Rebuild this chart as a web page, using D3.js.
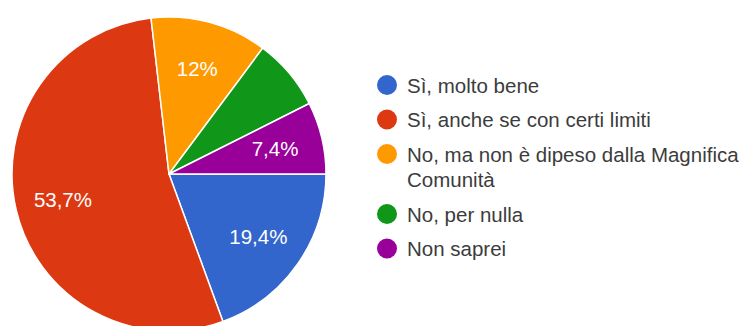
<!DOCTYPE html>
<html>
<head>
<meta charset="utf-8">
<script src="https://cdn.jsdelivr.net/npm/d3@7"></script>
<style>
  html, body { margin: 0; padding: 0; background: #fff; }
  svg { display: block; }
</style>
</head>
<body>
<svg id="chart" width="754" height="326"></svg>
<script>
// Survey answers and their share of responses (%)
const categories = [
  "Sì, molto bene",
  "Sì, anche se con certi limiti",
  "No, ma non è dipeso dalla Magnifica Comunità",
  "No, per nulla",
  "Non saprei"
];
const values = [19.4, 53.7, 12, 7.4, 7.4];
// Text printed inside each slice (the green slice carries none)
const sliceLabels = ["19,4%", "53,7%", "12%", null, "7,4%"];
// Legend entries, already broken into lines
const legendLines = [
  ["Sì, molto bene"],
  ["Sì, anche se con certi limiti"],
  ["No, ma non è dipeso dalla Magnifica", "Comunità"],
  ["No, per nulla"],
  ["Non saprei"]
];
const colors = ["#3366cc", "#dc3912", "#ff9900", "#109618", "#990099"];

const svg = d3.select("#chart");
const cx = 169, cy = 174, radius = 157;

const color = d3.scaleOrdinal().domain(categories).range(colors);

const pie = d3.pie()
  .value(d => d.value)
  .sort(null)
  .startAngle(Math.PI / 2)
  .endAngle(Math.PI / 2 + 2 * Math.PI);

const rows = categories.map((c, i) => ({ category: c, value: values[i], label: sliceLabels[i] }));
const arcs = pie(rows);

const arc = d3.arc().innerRadius(0).outerRadius(radius);
const labelArc = d3.arc().innerRadius(109).outerRadius(109);

const g = svg.append("g").attr("transform", `translate(${cx},${cy})`);

g.selectAll("path.slice")
  .data(arcs)
  .join("path")
  .attr("class", "slice")
  .attr("d", arc)
  .attr("fill", d => color(d.data.category))
  .attr("stroke", "#ffffff")
  .attr("stroke-width", 1.5)
  .attr("stroke-linejoin", "round");

g.selectAll("text.pct")
  .data(arcs.filter(d => d.data.label))
  .join("text")
  .attr("class", "pct")
  .attr("transform", d => `translate(${labelArc.centroid(d)})`)
  .attr("text-anchor", "middle")
  .attr("dominant-baseline", "central")
  .attr("font-family", "Arial, 'Liberation Sans', sans-serif")
  .attr("font-size", 20.5)
  .attr("fill", "#ffffff")
  .text(d => d.data.label);

// Legend: one row per answer, long answers wrap onto a second line
const legendX = 387, legendTop = 85, rowStep = 34.5, lineStep = 25.5;
const legend = svg.append("g");
let y = legendTop;
categories.forEach((c, i) => {
  const item = legend.append("g");
  item.append("circle")
    .attr("cx", legendX)
    .attr("cy", y)
    .attr("r", 10)
    .attr("fill", color(c));
  legendLines[i].forEach((line, j) => {
    item.append("text")
      .attr("x", legendX + 20)
      .attr("y", y + j * lineStep)
      .attr("dominant-baseline", "central")
      .attr("font-family", "Arial, 'Liberation Sans', sans-serif")
      .attr("font-size", 20.5)
      .attr("fill", "#3c3c3c")
      .text(line);
  });
  y += (legendLines[i].length - 1) * lineStep + rowStep;
});
</script>
</body>
</html>
